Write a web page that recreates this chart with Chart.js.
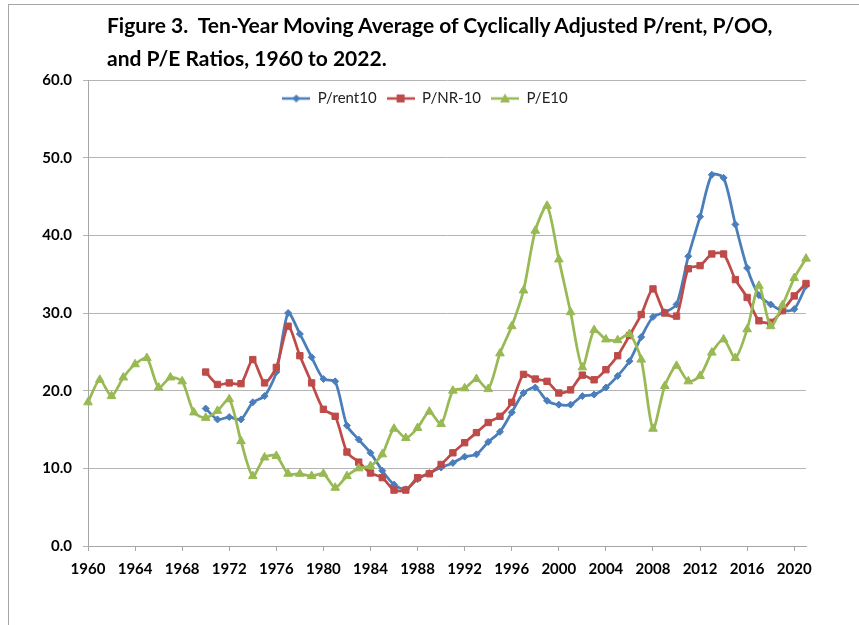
<!DOCTYPE html>
<html>
<head>
<meta charset="utf-8">
<script src="https://cdn.jsdelivr.net/npm/chart.js@4.4.1/dist/chart.umd.min.js"></script>
<style>
  html, body { margin: 0; padding: 0; background: #fff; }
  #wrap { position: relative; width: 859px; height: 625px; overflow: hidden; }
  #frame { position: absolute; left: 8px; top: 4px; right: -2px; bottom: -2px;
           border-left: 1px solid #a6a6a6; border-top: 1px solid #a6a6a6; }
  #title { position: absolute; left: 107px; top: 8px; font-family: Lato, sans-serif;
           font-weight: bold; font-size: 21px; line-height: 33px; color: #000; white-space: nowrap; }
  canvas { position: absolute; left: 0; top: 0; }
</style>
</head>
<body>
<div id="wrap">
  <div id="frame"></div>
  <canvas id="myChart" width="859" height="625"></canvas>
  <div id="title">Figure 3.&nbsp; Ten-Year Moving Average of Cyclically Adjusted P/rent, P/OO,<br>and P/E Ratios, 1960 to 2022.</div>
</div>
<script>
const years = Array.from({ length: 62 }, (_, i) => String(1960 + i));

const pRent10 = [
    null, null, null, null, null, null, null, null, null, null,
    17.7, 16.3, 16.6, 16.3, 18.5, 19.3, 22.4, 30.0, 27.3, 24.3,
    21.5, 21.2, 15.5, 13.7, 12.0, 9.7, 7.9, 7.3, 8.6, 9.4,
    10.1, 10.7, 11.5, 11.8, 13.4, 14.7, 17.2, 19.7, 20.4, 18.7,
    18.2, 18.2, 19.3, 19.5, 20.4, 21.9, 23.8, 26.9, 29.5, 30.1,
    31.1, 37.3, 42.4, 47.8, 47.4, 41.4, 35.8, 32.3, 31.1, 30.3,
    30.5, 33.5
];
const pNR10 = [
    null, null, null, null, null, null, null, null, null, null,
    22.4, 20.8, 21.0, 20.9, 24.0, 21.0, 23.0, 28.3, 24.5, 21.0,
    17.6, 16.7, 12.1, 10.8, 9.4, 8.8, 7.2, 7.2, 8.8, 9.3,
    10.5, 12.0, 13.3, 14.6, 15.9, 16.7, 18.5, 22.1, 21.5, 21.2,
    19.7, 20.1, 22.0, 21.4, 22.7, 24.5, 27.1, 29.8, 33.1, 30.0,
    29.6, 35.7, 36.1, 37.6, 37.6, 34.3, 32.0, 29.0, 28.8, 30.3,
    32.2, 33.8
];
const pE10 = [
    18.5, 21.4, 19.3, 21.7, 23.4, 24.2, 20.4, 21.7, 21.2, 17.2,
    16.5, 17.4, 18.9, 13.5, 9.0, 11.4, 11.6, 9.3, 9.3, 9.0,
    9.3, 7.5, 9.0, 10.0, 10.3, 11.8, 15.1, 13.9, 15.2, 17.3,
    15.7, 20.0, 20.3, 21.5, 20.2, 24.8, 28.3, 32.9, 40.6, 43.8,
    36.9, 30.1, 23.0, 27.8, 26.6, 26.5, 27.3, 24.0, 15.1, 20.6,
    23.2, 21.2, 21.9, 24.9, 26.6, 24.2, 27.9, 33.5, 28.3, 31.0,
    34.5, 37.0
];

const BLUE = '#4a7ebb';
const RED = '#be4b48';
const GREEN = '#98b954';

// small picture of line + marker for the legend, like Excel does
function legendIcon(color, shape) {
    const c = document.createElement('canvas');
    c.width = 28;
    c.height = 12;
    const g = c.getContext('2d');
    g.strokeStyle = color;
    g.fillStyle = color;
    g.lineWidth = 2.5;
    g.beginPath();
    g.moveTo(0, 6);
    g.lineTo(28, 6);
    g.stroke();
    g.beginPath();
    if (shape === 'diamond') {
        g.moveTo(14, 2); g.lineTo(18, 6); g.lineTo(14, 10); g.lineTo(10, 6);
    } else if (shape === 'square') {
        g.rect(10, 2, 8, 8);
    } else {
        g.moveTo(14, 1); g.lineTo(19, 10); g.lineTo(9, 10);
    }
    g.closePath();
    g.fill();
    return c;
}

const icons = [legendIcon(BLUE, 'diamond'), legendIcon(RED, 'square'), legendIcon(GREEN, 'triangle')];

// legend sits on top of the chart area, move it down inside the plot
const legendInside = {
    id: 'legendInside',
    afterLayout(chart) {
        const lg = chart.legend;
        const h = lg.bottom - lg.top;
        lg.top = chart.chartArea.top + 1;
        lg.bottom = lg.top + h;
        lg.left += 22;
        lg.right += 22;
    }
};

new Chart(document.getElementById('myChart'), {
    type: 'line',
    data: {
        labels: years,
        datasets: [{
            label: 'P/rent10',
            data: pRent10,
            borderColor: BLUE,
            backgroundColor: BLUE,
            pointStyle: 'rectRot',
            pointRadius: 3.5,
            order: 2
        }, {
            label: 'P/NR-10',
            data: pNR10,
            borderColor: RED,
            backgroundColor: RED,
            pointStyle: 'rect',
            pointRadius: 4.5,
            order: 1
        }, {
            label: 'P/E10',
            data: pE10,
            borderColor: GREEN,
            backgroundColor: GREEN,
            pointStyle: 'triangle',
            pointRadius: 5,
            order: 0
        }]
    },
    options: {
        responsive: false,
        animation: false,
        layout: {
            padding: { top: 45, right: 53, bottom: 0, left: 0 }
        },
        elements: {
            line: { borderWidth: 2.75, tension: 0.25 },
            point: { borderWidth: 1, hoverRadius: 5 }
        },
        scales: {
            x: {
                type: 'category',
                offset: false,
                border: { color: '#a6a6a6', width: 1 },
                grid: { drawOnChartArea: false, drawTicks: true, tickLength: 5, color: '#a6a6a6' },
                ticks: {
                    autoSkip: false,
                    maxRotation: 0,
                    padding: 9,
                    color: '#000',
                    font: { family: 'Lato', size: 15, weight: 'bold' },
                    callback: function (v, i) {
                        return i % 4 === 0 ? years[i] : null;
                    }
                },
                afterFit: function (scale) { scale.height = 79; }
            },
            y: {
                min: 0,
                max: 60,
                border: { color: '#a6a6a6', width: 1 },
                grid: { color: '#b4b4b4', tickLength: 5 },
                ticks: {
                    stepSize: 10,
                    padding: 11,
                    color: '#000',
                    font: { family: 'Lato', size: 15, weight: 'bold' },
                    callback: function (v) { return v.toFixed(1); }
                },
                afterFit: function (scale) { scale.width = 88; }
            }
        },
        plugins: {
            tooltip: { enabled: false },
            legend: {
                position: 'top',
                align: 'center',
                labels: {
                    usePointStyle: true,
                    pointStyleWidth: 28,
                    padding: 10,
                    color: '#222',
                    font: { family: 'Lato', size: 15 },
                    generateLabels: function (chart) {
                        return chart.data.datasets.map((ds, i) => ({
                            text: ds.label,
                            pointStyle: icons[i],
                            fillStyle: ds.borderColor,
                            strokeStyle: ds.borderColor,
                            lineWidth: 0,
                            fontColor: '#222',
                            datasetIndex: i,
                            hidden: false
                        }));
                    }
                }
            }
        }
    },
    plugins: [legendInside]
});
</script>
</body>
</html>
